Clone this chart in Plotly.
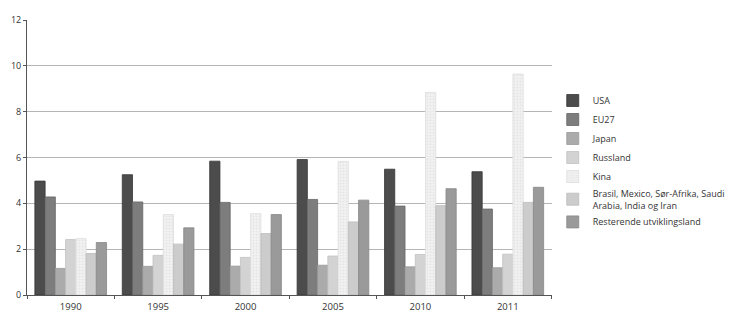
import plotly.graph_objects as go

years = ["1990", "1995", "2000", "2005", "2010", "2011"]
series_names = ["USA", "EU27", "Japan", "Russland", "Kina",
                "Brasil, Mexico, Sør-Afrika, Saudi<br>Arabia, India og Iran",
                "Resterende utviklingsland"]
usa = [4.97, 5.25, 5.84, 5.91, 5.49, 5.38]
eu27 = [4.28, 4.06, 4.04, 4.17, 3.88, 3.75]
japan = [1.16, 1.25, 1.26, 1.30, 1.23, 1.19]
russland = [2.42, 1.73, 1.64, 1.70, 1.77, 1.78]
kina = [2.46, 3.51, 3.55, 5.83, 8.84, 9.64]
brasil = [1.81, 2.22, 2.68, 3.19, 3.90, 4.04]
resterende = [2.29, 2.93, 3.51, 4.14, 4.64, 4.70]
y_ticks = [0, 2, 4, 6, 8, 10, 12]

values = [usa, eu27, japan, russland, kina, brasil, resterende]
colors = ["#4c4c4c", "#7d7d7d", "#ababab", "#d3d3d3", "#eeeeee", "#cccccc", "#9a9a9a"]
lines = ["#363636", "#666666", "#999999", "#c2c2c2", "#dddddd", "#bbbbbb", "#888888"]

fig = go.Figure()
for name, vals, c, lc in zip(series_names, values, colors, lines):
    marker = dict(color=c, line=dict(color=lc, width=0.8))
    if name == "Kina":
        marker["pattern"] = dict(shape=".", fgcolor="#d6d6d6", bgcolor="#f2f2f2", size=3, solidity=0.3)
    fig.add_trace(go.Bar(name=name, x=years, y=vals, marker=marker))

fig.update_layout(
    width=730, height=322,
    margin=dict(l=27, r=0, t=20, b=27),
    barmode="group", bargap=0.18, bargroupgap=0,
    plot_bgcolor="white", paper_bgcolor="white",
    font=dict(family="Open Sans", size=9, color="#333333"),
    showlegend=True,
    legend=dict(x=0.750, y=0.76, xanchor="left", yanchor="top",
                font=dict(size=9, color="#333333"), itemwidth=30,
                tracegroupgap=4),
    xaxis=dict(domain=[0, 526 / 703], showline=True, linecolor="#555555", linewidth=1,
               ticks="outside", ticklen=3, tickcolor="#555555",
               tickson="boundaries", tickfont=dict(size=9.5), ticklabelstandoff=3),
    yaxis=dict(range=[0, 12], tickvals=y_ticks, showline=True,
               linecolor="#555555", linewidth=1, showgrid=True,
               gridcolor="#b5b5b5", gridwidth=1, ticks="outside",
               ticklen=3, tickcolor="#555555", tickfont=dict(size=9),
               zeroline=False),
)
fig.write_html("out.html")
